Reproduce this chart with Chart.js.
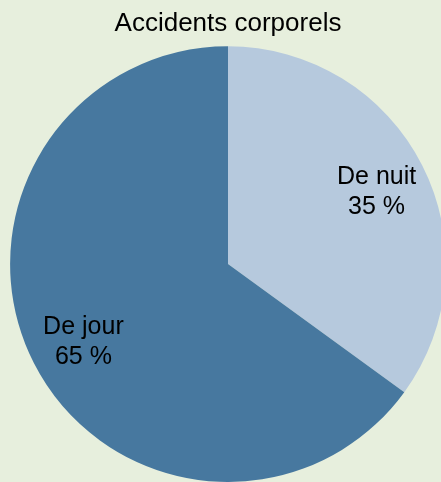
<!DOCTYPE html>
<html>
<head>
<meta charset="utf-8">
<script src="https://cdn.jsdelivr.net/npm/chart.js@4/dist/chart.umd.min.js"></script>
<style>
  html, body { margin: 0; padding: 0; background: #e7efdd; overflow: hidden; }
  #wrap { position: absolute; left: 0; top: 0; width: 456px; height: 482px; }
</style>
</head>
<body>
<div id="wrap"><canvas id="c"></canvas></div>
<script>
const title = 'Accidents corporels';
const categories = ['De nuit', 'De jour'];
const values = [35, 65];
const valueLabels = ['35 %', '65 %'];
const colors = ['#b6c9dd', '#47789f'];

const labelPlugin = {
  id: 'sliceLabels',
  afterDatasetsDraw(chart) {
    const ctx = chart.ctx;
    const meta = chart.getDatasetMeta(0);
    ctx.save();
    ctx.font = '25px "Liberation Sans", Arial, sans-serif';
    ctx.fillStyle = '#000';
    ctx.textAlign = 'center';
    ctx.textBaseline = 'alphabetic';
    meta.data.forEach((arc, i) => {
      const p = arc.getProps(['x', 'y', 'startAngle', 'endAngle', 'outerRadius'], true);
      const mid = (p.startAngle + p.endAngle) / 2;
      const r = p.outerRadius * 0.755;
      const px = p.x + Math.cos(mid) * r + 2;
      const py = p.y + Math.sin(mid) * r;
      ctx.fillText(categories[i], px, py - 5);
      ctx.fillText(valueLabels[i], px, py + 25);
    });
    ctx.restore();
  }
};

new Chart(document.getElementById('c'), {
  type: 'pie',
  data: {
    labels: categories,
    datasets: [{
      data: values,
      backgroundColor: colors,
      borderWidth: 0
    }]
  },
  options: {
    responsive: true,
    maintainAspectRatio: false,
    animation: false,
    layout: { padding: 0 },
    plugins: {
      legend: { display: false },
      tooltip: { enabled: false },
      title: {
        display: true,
        text: title,
        color: '#000',
        font: { family: '"Liberation Sans", Arial, sans-serif', size: 26, weight: 'normal', lineHeight: 1.2 },
        padding: { top: 8, bottom: 7 }
      }
    }
  },
  plugins: [labelPlugin]
});
</script>
</body>
</html>
